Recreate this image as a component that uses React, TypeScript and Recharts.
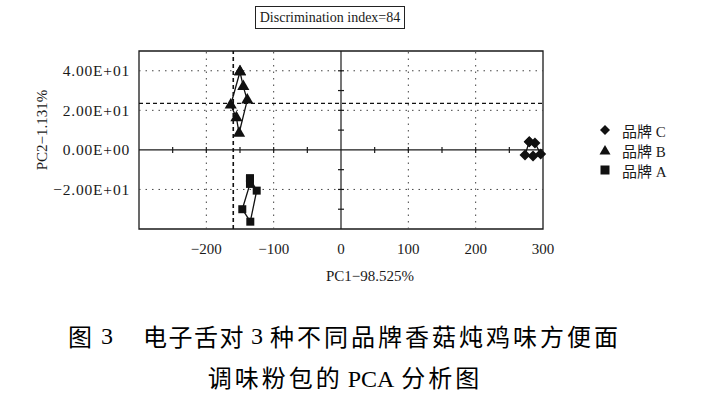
import React from "react";
import {
  ScatterChart,
  Scatter,
  XAxis,
  YAxis,
  ZAxis,
  ReferenceLine,
  ReferenceArea,
  ReferenceDot,
  Legend,
} from "recharts";

// PCA scores (polygon order, first point repeated to close)
const brandC = [
  { x: 279.6, y: 4.1 },
  { x: 288, y: 3.5 },
  { x: 296.6, y: -2.1 },
  { x: 285.2, y: -3.1 },
  { x: 273.3, y: -2.6 },
  { x: 279.6, y: 4.1 },
];
const brandB = [
  { x: -150, y: 39.5 },
  { x: -145.1, y: 32 },
  { x: -139.2, y: 25.2 },
  { x: -151.4, y: 8.4 },
  { x: -155.3, y: 16.3 },
  { x: -163.8, y: 22.7 },
  { x: -150, y: 39.5 },
];
const brandA = [
  { x: -135.2, y: -14.4 },
  { x: -125.2, y: -20.6 },
  { x: -134.7, y: -36.3 },
  { x: -146.6, y: -30 },
  { x: -135.2, y: -17.2 },
  { x: -135.2, y: -14.4 },
];

const legendOrder = ["品牌 C", "品牌 B", "品牌 A"];
const xDomain = [-300, 300];
const yDomain = [-40, 50];
const xTicks = [-200, -100, 0, 100, 200, 300];
const yTicks = [-20, 0, 20, 40];
const xGrid = [-200, -100, 100, 200];
const yGrid = [-20, 20, 40];
const xMinor = [-250, -200, -150, -100, -50, 50, 100, 150, 200, 250];
const yMinor = [-30, -20, -10, 10, 20, 30, 40];
const cutX = -160;
const cutY = 23.5;

const serif = "'Liberation Serif', 'Noto Sans CJK SC', serif";
const ink = "#1a1a1a";
const mark = "#111";

const sci = (v: number) => {
  if (v === 0) return "0.00E+00";
  const e = Math.floor(Math.log10(Math.abs(v)));
  const m = Math.abs(v) / Math.pow(10, e);
  return `${v < 0 ? "−" : ""}${m.toFixed(2)}E${e >= 0 ? "+" : "-"}${String(Math.abs(e)).padStart(2, "0")}`;
};
const minus = (v: number) => String(v).replace("-", "−");

const vTick = (p: any) => (
  <line x1={p.cx} x2={p.cx} y1={p.cy - 3} y2={p.cy + 3} stroke={ink} strokeWidth={1.2} />
);
const hTick = (p: any) => (
  <line x1={p.cx - 3} x2={p.cx + 3} y1={p.cy} y2={p.cy} stroke={ink} strokeWidth={1.2} />
);
const diamond = (p: any) => (
  <polygon
    points={`${p.cx},${p.cy - 5.5} ${p.cx + 5.5},${p.cy} ${p.cx},${p.cy + 5.5} ${p.cx - 5.5},${p.cy}`}
    fill={mark}
  />
);

const legendIcon = (type: string) => {
  if (type === "diamond") return <polygon points="7,2 12,7 7,12 2,7" fill={mark} />;
  if (type === "triangle") return <polygon points="7,2 12.5,11.5 1.5,11.5" fill={mark} />;
  return <rect x={2.5} y={2.5} width={9} height={9} fill={mark} />;
};

const LegendBox = (props: any) => {
  const items = [...(props.payload || [])].sort(
    (a: any, b: any) => legendOrder.indexOf(a.value) - legendOrder.indexOf(b.value)
  );
  return (
    <div>
      {items.map((it: any) => (
        <div key={it.value} style={{ display: "flex", alignItems: "center", height: 20 }}>
          <svg width={14} height={14} style={{ marginRight: 10 }}>
            {legendIcon(it.type)}
          </svg>
          <span style={{ color: ink }}>{it.value}</span>
        </div>
      ))}
    </div>
  );
};

const cap: React.CSSProperties = {
  position: "absolute",
  fontSize: 24,
  lineHeight: "30px",
  whiteSpace: "pre",
  color: "#000",
};
const cjk: React.CSSProperties = {
  fontFamily: "'Noto Sans CJK SC', sans-serif",
  letterSpacing: 3,
};

export default function App() {
  return (
    <div
      style={{
        position: "absolute",
        left: 0,
        top: 0,
        width: 702,
        height: 396,
        background: "#fff",
        fontFamily: serif,
        color: ink,
      }}
    >
      <div
        style={{
          position: "absolute",
          left: 255,
          top: 6,
          width: 148,
          height: 21,
          border: "1px solid #222",
          fontSize: 14,
          lineHeight: "21px",
          textAlign: "center",
        }}
      >
        Discrimination index=84
      </div>

      <div style={{ position: "absolute", left: 0, top: 0 }}>
        <ScatterChart
          width={702}
          height={300}
          margin={{ top: 51, right: 159, bottom: 41, left: 39 }}
        >
          <XAxis
            type="number"
            dataKey="x"
            domain={xDomain}
            ticks={xTicks}
            tickFormatter={minus}
            axisLine={false}
            tickLine={false}
            tickSize={6}
            tickMargin={8}
            height={30}
            tick={{ fill: ink, fontSize: 15, fontFamily: serif }}
          />
          <YAxis
            type="number"
            dataKey="y"
            domain={yDomain}
            ticks={yTicks}
            tickFormatter={sci}
            axisLine={false}
            tickLine={false}
            tickSize={6}
            tickMargin={3}
            width={100}
            tick={{ fill: ink, fontSize: 15.5, fontFamily: serif, letterSpacing: 0.8 }}
          />
          <ZAxis range={[70, 70]} />

          {xGrid.map((v) => (
            <ReferenceLine key={"gx" + v} x={v} stroke="#444" strokeDasharray="1.5 5" />
          ))}
          {yGrid.map((v) => (
            <ReferenceLine key={"gy" + v} y={v} stroke="#444" strokeDasharray="1.5 5" />
          ))}
          <ReferenceLine x={0} stroke={ink} strokeWidth={1.2} />
          <ReferenceLine y={0} stroke={ink} strokeWidth={1.2} />
          {xMinor.map((v) => (
            <ReferenceDot key={"mx" + v} x={v} y={0} shape={vTick} />
          ))}
          {yMinor.map((v) => (
            <ReferenceDot key={"my" + v} x={0} y={v} shape={hTick} />
          ))}
          <ReferenceLine x={cutX} stroke="#111" strokeWidth={1.6} strokeDasharray="4 3" />
          <ReferenceLine y={cutY} stroke="#111" strokeWidth={1.3} strokeDasharray="4 3" />
          <ReferenceArea
            x1={xDomain[0]}
            x2={xDomain[1]}
            y1={yDomain[0]}
            y2={yDomain[1]}
            fill="none"
            stroke={ink}
            strokeWidth={1.3}
            fillOpacity={0}
          />

          <Scatter
            name="品牌 C"
            data={brandC}
            fill={mark}
            shape={diamond}
            legendType="diamond"
            line={{ stroke: mark, strokeWidth: 1.3 }}
            lineType="joint"
            isAnimationActive={false}
          />
          <Scatter
            name="品牌 B"
            data={brandB}
            fill={mark}
            shape="triangle"
            legendType="triangle"
            line={{ stroke: mark, strokeWidth: 1.3 }}
            lineType="joint"
            isAnimationActive={false}
          />
          <Scatter
            name="品牌 A"
            data={brandA}
            fill={mark}
            shape="square"
            legendType="square"
            line={{ stroke: mark, strokeWidth: 1.3 }}
            lineType="joint"
            isAnimationActive={false}
          />
          <Legend
            layout="vertical"
            verticalAlign="middle"
            align="center"
            content={LegendBox}
            wrapperStyle={{
              position: "absolute",
              left: 598,
              top: 120,
              width: 90,
              fontSize: 15,
              fontFamily: serif,
              textAlign: "left",
            }}
          />
        </ScatterChart>
      </div>

      <div
        style={{
          position: "absolute",
          left: 42,
          top: 130,
          transform: "translate(-50%, -50%) rotate(-90deg)",
          fontSize: 15,
          whiteSpace: "nowrap",
        }}
      >
        PC2−1.131%
      </div>
      <div
        style={{
          position: "absolute",
          left: 370,
          top: 276,
          transform: "translate(-50%, -50%)",
          fontSize: 15,
          whiteSpace: "nowrap",
        }}
      >
        PC1−98.525%
      </div>

      {/* caption, line 1 */}
      <div style={{ ...cap, ...cjk, left: 68, top: 321 }}>图</div>
      <div style={{ ...cap, left: 101, top: 321 }}>3</div>
      <div style={{ ...cap, ...cjk, letterSpacing: 1.5, left: 143, top: 321 }}>电子舌对</div>
      <div style={{ ...cap, left: 251, top: 321 }}>3</div>
      <div style={{ ...cap, ...cjk, left: 270, top: 321 }}>种不同品牌香菇炖鸡味方便面</div>
      {/* caption, line 2 */}
      <div
        style={{
          position: "absolute",
          left: 0,
          width: 690,
          top: 362,
          textAlign: "center",
          fontSize: 24,
          lineHeight: "30px",
          whiteSpace: "pre",
          color: "#000",
        }}
      >
        <span style={cjk}>调味粉包的</span>
        <span style={{ margin: "0 7px 0 5px" }}>PCA</span>
        <span style={cjk}>分析图</span>
      </div>
    </div>
  );
}
